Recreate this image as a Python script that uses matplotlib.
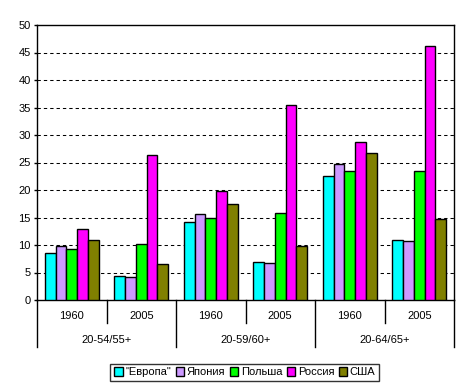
import matplotlib
matplotlib.use('Agg')
import matplotlib.pyplot as plt
import matplotlib.transforms as mtransforms
import numpy as np

plt.rcParams['font.family'] = ['Liberation Sans', 'DejaVu Sans']
plt.rcParams['font.size'] = 8

years = ['1960', '2005', '1960', '2005', '1960', '2005']
groups = ['20-54/55+', '20-59/60+', '20-64/65+']
series = ['"Европа"', 'Япония', 'Польша', 'Россия', 'США']
colors = ['#00FFFF', '#CC99FF', '#00FF00', '#FF00FF', '#808000']

europe = [8.5, 4.3, 14.1, 6.85, 22.5, 11.0]
japan = [9.8, 4.1, 15.6, 6.7, 24.7, 10.7]
poland = [9.2, 10.1, 14.85, 15.8, 23.4, 23.4]
russia = [13.0, 26.3, 19.8, 35.4, 28.7, 46.1]
usa = [11.0, 6.5, 17.4, 9.8, 26.7, 14.7]
values = [europe, japan, poland, russia, usa]

fig = plt.figure(figsize=(4.69, 3.92), dpi=100)
ax = fig.add_axes([37 / 469, 1 - 300 / 392, 417 / 469, 275 / 392])

x = np.arange(len(years))
w = 0.155
handles = []
for k, (vals, col) in enumerate(zip(values, colors)):
    h = ax.bar(x + (k - 2) * w, vals, w, color=col, edgecolor='black', linewidth=1.0, zorder=3)
    handles.append(h)

ax.set_xlim(-0.5, len(years) - 0.5)
ax.set_ylim(0, 50)
ax.set_yticks(np.arange(0, 51, 5))
for yv in np.arange(5, 50, 5):
    ax.axhline(yv, color='black', linewidth=0.75, linestyle=(0, (3.2, 2.9)), zorder=1)

for s in ax.spines.values():
    s.set_linewidth(1.0)
ax.tick_params(axis='y', length=2.5, width=1.0, pad=2)
ax.set_xticks([])

# two-level category axis
trans = mtransforms.blended_transform_factory(ax.transData, ax.transAxes)
for i, yr in enumerate(years):
    ax.text(i, -0.058, yr, transform=trans, ha='center', va='center')
for j, g in enumerate(groups):
    ax.text(2 * j + 0.5, -0.145, g, transform=trans, ha='center', va='center')
for i in range(len(years) + 1):
    bottom = -0.171 if i % 2 == 0 else -0.084
    ax.plot([i - 0.5, i - 0.5], [0, bottom], transform=trans, color='black',
            linewidth=1.0, clip_on=False)

leg = fig.legend(handles, series, loc='center', bbox_to_anchor=(0.522, 0.05), ncol=5,
                 frameon=True, fancybox=False, edgecolor='black', handlelength=0.75,
                 handleheight=0.75, handletextpad=0.25, columnspacing=0.4, borderpad=0.35,
                 fontsize=8)
leg.get_frame().set_linewidth(1.0)

fig.savefig('out.png', dpi=100)
